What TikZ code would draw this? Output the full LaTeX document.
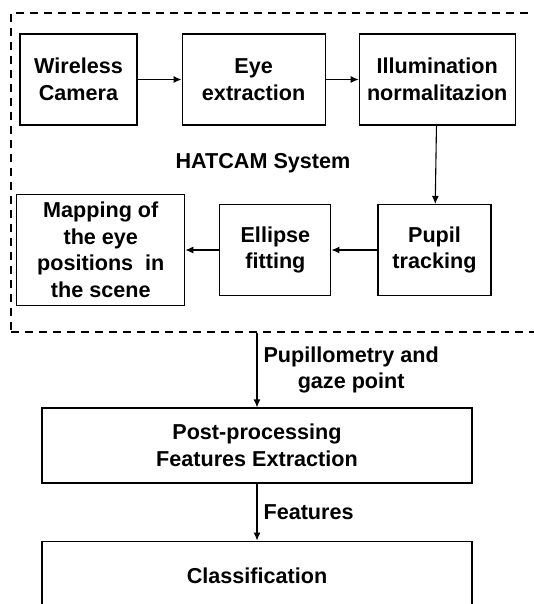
\documentclass[tikz,border=0pt]{standalone}
\usepackage{fontspec}
\setmainfont{Liberation Sans}
\usetikzlibrary{positioning,arrows.meta}

\begin{document}
\begin{tikzpicture}[-{Latex[length=8pt,width=7pt]}, x=1pt, y=-1pt, line width=1.1pt,
block/.style ={draw, -, align=center, inner sep=0pt, minimum height=91pt},
lbl/.style ={align=center, inner sep=0pt},
every node/.style={font=\bfseries\fontsize{21.6}{26.5}\selectfont}]
\useasboundingbox (0,0) rectangle (533,604);
% HATCAM system
\node[draw, dashed, dash pattern=on 8pt off 6pt, minimum width=540pt, minimum height=319pt, inner sep=0pt] (sys) at (281,172.5) {};
\node[block, minimum width=117pt] (W) at (78.5,79.5) {Wireless\\Camera};
\node[block, minimum width=143pt] (E) [right = 44pt of W] {Eye\\extraction};
\node[block, minimum width=156pt] (I) [right = 33pt of E] {Illumination\\normalitazion};
\node[lbl] (hat) at (263,163) {HATCAM System};
\node[block, minimum width=113pt] (P) at (434.5,250) {Pupil\\tracking};
\node[block, minimum width=111pt] (F) [left = 46pt of P] {Ellipse\\fitting};
\node[block, minimum width=168pt, minimum height=111pt] (M) [left = 34pt of F] {Mapping of\\the eye\\positions~~in\\the scene};
% after the system
\node[block, minimum width=430pt, minimum height=75pt] (PP) at (257,445.5) {Post-processing\\Features Extraction};
\node[block, minimum width=430pt, minimum height=70pt] (C) [below = 57pt of PP] {Classification};
\coordinate (out) at (PP.north |- sys.south);

\draw (W) -- (E);
\draw (E) -- (I);
\draw (I) -- (P);
\draw (P) -- (F);
\draw (F) -- (M);
\draw (out) -- node[lbl, right=6pt] {Pupillometry and\\gaze point} (PP);
\draw (PP) -- node[lbl, right=6pt] {Features} (C);
\end{tikzpicture}
\end{document}
